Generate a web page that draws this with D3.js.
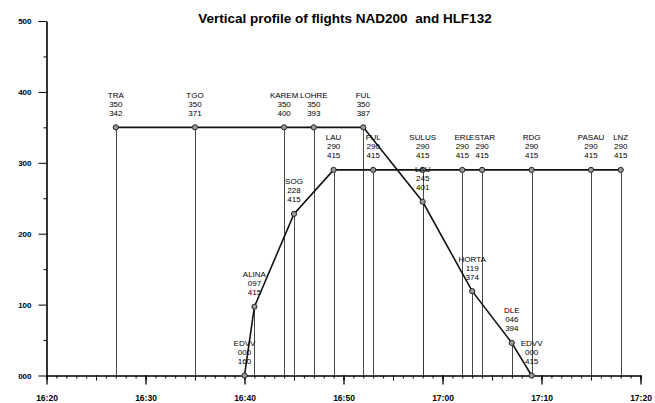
<!DOCTYPE html>
<html>
<head>
<meta charset="utf-8">
<script src="https://cdn.jsdelivr.net/npm/d3@7"></script>
<style>
  body { margin: 0; background: #fff; }
  svg { display: block; }
  text { font-family: "Liberation Sans", Arial, sans-serif; fill: #000; }
</style>
</head>
<body>
<svg id="chart" width="655" height="403"></svg>
<script>
// flight descending from FL350 into EDVV
const descNames  = ["TRA", "TGO", "KAREM", "LOHRE", "FUL", "LAU", "HORTA", "DLE", "EDVV"];
const descTimes  = ["16:27", "16:35", "16:44", "16:47", "16:52", "16:58", "17:03", "17:07", "17:09"];
const descLevels = [350, 350, 350, 350, 350, 245, 119, 46, 0];
const descSpeeds = [342, 371, 400, 393, 387, 401, 374, 394, 415];

// flight climbing out of EDVV to FL290
const climbNames  = ["EDVV", "ALINA", "SOG", "LAU", "FUL", "SULUS", "ERL", "ESTAR", "RDG", "PASAU", "LNZ"];
const climbTimes  = ["16:40", "16:41", "16:45", "16:49", "16:53", "16:58", "17:02", "17:04", "17:09", "17:15", "17:18"];
const climbLevels = [0, 97, 228, 290, 290, 290, 290, 290, 290, 290, 290];
const climbSpeeds = [160, 415, 415, 415, 415, 415, 415, 415, 415, 415, 415];

const levelTicks = [0, 100, 200, 300, 400, 500];
const timeStart = "16:20", timeEnd = "17:20";

const parseT = d3.timeParse("%H:%M");
const fmt3 = d3.format("03d");

const svg = d3.select("#chart");

const x = d3.scaleTime()
    .domain([parseT(timeStart), parseT(timeEnd)])
    .range([46.5, 640.5]);
const y = d3.scaleLinear()
    .domain([0, 500])
    .range([375.5, 21]);

function rows(names, times, levels, speeds) {
    return names.map((n, i) => ({
        name: n, t: parseT(times[i]), fl: levels[i], spd: speeds[i]
    }));
}
const desc = rows(descNames, descTimes, descLevels, descSpeeds);
const climb = rows(climbNames, climbTimes, climbLevels, climbSpeeds);
const all = desc.concat(climb);

// title
svg.append("text")
    .attr("x", 345).attr("y", 23)
    .attr("text-anchor", "middle")
    .style("font-size", "13.5px")
    .style("font-weight", "bold")
    .style("white-space", "pre")
    .text("Vertical profile of flights NAD200  and HLF132");

// drop lines from each waypoint to the time axis
svg.append("g").selectAll("line")
    .data(all.filter(d => d.fl > 0))
    .enter().append("line")
    .attr("x1", d => Math.round(x(d.t)) + 0.5)
    .attr("x2", d => Math.round(x(d.t)) + 0.5)
    .attr("y1", d => y(d.fl))
    .attr("y2", y(0))
    .attr("stroke", "#333")
    .attr("stroke-width", 0.9);

// y axis
const yAxis = d3.axisLeft(y)
    .tickValues(levelTicks)
    .tickFormat(fmt3)
    .tickSize(8)
    .tickPadding(7)
    .tickSizeOuter(0);
const gy = svg.append("g")
    .attr("transform", `translate(${x.range()[0]},0)`)
    .call(yAxis);
gy.select(".domain").attr("stroke-width", 1.6);
gy.selectAll("text").style("font-size", "8px").style("font-weight", "bold");

svg.append("g")
    .attr("transform", `translate(${x.range()[0]},0)`)
    .call(d3.axisLeft(y).tickValues([50, 150, 250, 350, 450]).tickSize(3).tickFormat(""))
    .select(".domain").remove();

// x axis: minute, 5 minute and 10 minute ticks
const gxMin = svg.append("g")
    .attr("transform", `translate(0,${y(0)})`)
    .call(d3.axisBottom(x).ticks(d3.timeMinute.every(1)).tickSize(3).tickFormat("").tickSizeOuter(0));
gxMin.select(".domain").attr("stroke-width", 1.6);

svg.append("g")
    .attr("transform", `translate(0,${y(0)})`)
    .call(d3.axisBottom(x).ticks(d3.timeMinute.every(5)).tickSize(5).tickFormat(""))
    .select(".domain").remove();

const gx = svg.append("g")
    .attr("transform", `translate(0,${y(0)})`)
    .call(d3.axisBottom(x).ticks(d3.timeMinute.every(10))
        .tickFormat(d3.timeFormat("%H:%M")).tickSize(9).tickPadding(10));
gx.select(".domain").remove();
gx.selectAll("line").attr("stroke-width", 1.3);
gx.selectAll("text").style("font-size", "8.5px").style("font-weight", "bold");

// profile lines
const line = d3.line().x(d => x(d.t)).y(d => y(d.fl));
[desc, climb].forEach(f => {
    svg.append("path")
        .datum(f)
        .attr("d", line)
        .attr("fill", "none")
        .attr("stroke", "#111")
        .attr("stroke-width", 1.6);
});

// waypoint markers
svg.append("g").selectAll("circle")
    .data(all)
    .enter().append("circle")
    .attr("cx", d => x(d.t))
    .attr("cy", d => y(d.fl))
    .attr("r", 2.6)
    .attr("fill", "#9a9a9a")
    .attr("stroke", "#222")
    .attr("stroke-width", 1);

// three line labels: name, flight level, speed
const lab = svg.append("g").selectAll("g")
    .data(all)
    .enter().append("g")
    .attr("transform", d => `translate(${x(d.t)},${y(d.fl)})`)
    .attr("text-anchor", "middle")
    .style("font-size", "8px");
lab.append("text").attr("y", -29.5).text(d => d.name);
lab.append("text").attr("y", -20.5).text(d => fmt3(d.fl));
lab.append("text").attr("y", -11.5).text(d => d.spd);
</script>
</body>
</html>
